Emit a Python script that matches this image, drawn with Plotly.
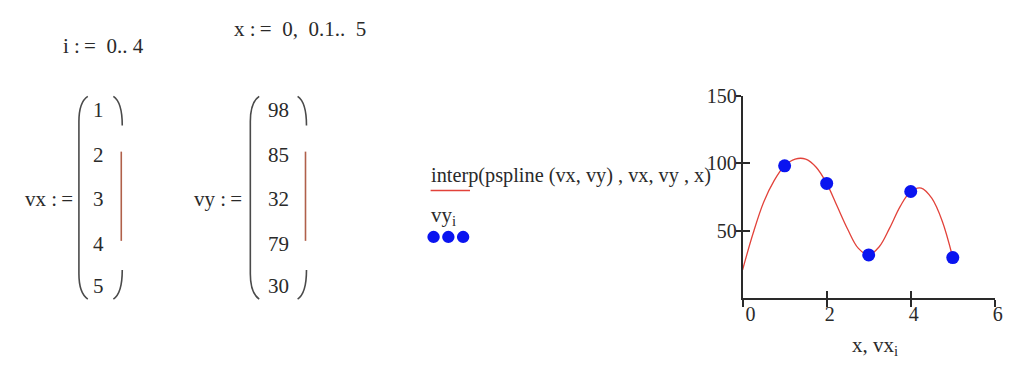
import plotly.graph_objects as go

# worksheet data
vx = [1, 2, 3, 4, 5]
vy = [98, 85, 32, 79, 30]

# red curve, values at steps of 0.25
curve_x = [0, 0.25, 0.5, 0.75, 1, 1.25, 1.5, 1.75, 2, 2.25, 2.5,
           2.75, 3, 3.25, 3.5, 3.75, 4, 4.25, 4.5, 4.75, 5]
curve_y = [21, 48, 71, 87, 98, 103, 103, 97, 85, 68, 51,
           37, 32, 38, 52, 68, 79, 81.5, 74, 57, 30]

x_ticks = [0, 2, 4, 6]
x_ticktext = ['\u00a0\u00a00', '2', '4', '6']
y_ticks = [50, 100, 150]
y_ticktext = ['50', '100', '150']

W, H = 1010, 365
FONT = 'Liberation Serif'
FS = 21
INK = '#2a2a2a'
RED = '#e2423a'
BLUE = '#0a14f0'
NB, TH = '\u00a0', '\u2009'


def px(x):
    return x / W


def py(y):
    return 1 - y / H


fig = go.Figure()
fig.add_trace(go.Scatter(x=curve_x, y=curve_y, mode='lines', line_shape='spline',
                         line=dict(color=RED, width=1.3), cliponaxis=False,
                         hoverinfo='skip'))
fig.add_trace(go.Scatter(x=vx, y=vy, mode='markers', xaxis='x2', yaxis='y2',
                         marker=dict(color=BLUE, size=13), cliponaxis=False))

dom_x = [px(746.7), px(1002.7)]
dom_y = [py(296), py(87.3)]
axis_common = dict(showgrid=False, zeroline=False, tickcolor=INK, tickwidth=1.5,
                   tickfont=dict(family=FONT, size=20, color=INK))

fig.update_layout(
    width=W, height=H, margin=dict(l=0, r=0, t=0, b=0),
    paper_bgcolor='white', plot_bgcolor='white', showlegend=False,
    xaxis=dict(range=[0, 6], domain=dom_x, anchor='y', tickvals=x_ticks,
               ticktext=x_ticktext, ticks='outside', ticklen=7, showline=True,
               linecolor=INK, linewidth=1.5, ticklabelshift=3,
               ticklabelstandoff=-10, ticklabeloverflow='allow', **axis_common),
    yaxis=dict(range=[0, 150], domain=dom_y, anchor='x', tickvals=y_ticks,
               ticktext=y_ticktext, ticks='outside', ticklen=5, showline=True,
               linecolor=INK, linewidth=1.5, ticklabelstandoff=-5,
               ticklabeloverflow='allow', **axis_common),
    xaxis2=dict(range=[0, 6], domain=dom_x, anchor='y2', overlaying='x',
                tickvals=x_ticks, ticks='inside', ticklen=7,
                showticklabels=False, **axis_common),
    yaxis2=dict(range=[0, 150], domain=dom_y, anchor='x2', overlaying='y',
                tickvals=[0] + y_ticks, ticks='inside', ticklen=7,
                showticklabels=False, **axis_common),
)

ann = []


def text(s, x, y, anchor='left', size=FS):
    ann.append(dict(text=s, x=px(x), y=py(y), xref='paper', yref='paper',
                    xanchor=anchor, yanchor='middle', showarrow=False,
                    font=dict(family=FONT, size=size, color=INK)))


ASSIGN = NB + ':' + TH + '=' + NB
text('i' + ASSIGN + NB + '0..' + NB + '4', 55, 36)
text('x' + ASSIGN + NB + '0,' + NB + NB + '0.1..' + NB + NB + '5', 228, 19)
text('vx' + NB + ':' + TH + '=', 69, 194, anchor='right')
text('vy' + NB + ':' + TH + '=', 241, 194, anchor='right')

rows = [102, 148, 194, 240, 284]
for r, a, b in zip(rows, vx, vy):
    text(str(a), 93, r, anchor='center')
    text(str(b), 276, r, anchor='center')

text('interp(pspline (vx, vy) , vx, vy , x)', 428, 170, size=20.3)
text('vy<sub>i</sub>', 428, 211)
text('x, vx<sub>i</sub>', 881, 345, anchor='center')

shapes = []


def path(points, color, width=1.6):
    d = ''
    for cmd, pts in points:
        d += cmd + ' ' + ' '.join(f'{px(a):.5f},{py(b):.5f}' for a, b in pts) + ' '
    shapes.append(dict(type='path', path=d.strip(), xref='paper', yref='paper',
                       line=dict(color=color, width=width)))


def bracket(xl, xr, top, bot, mid_color):
    # left "(" drawn as hook, straight stroke, hook
    path([('M', [(xl + 9, top)]), ('Q', [(xl, top + 6), (xl, top + 26)]),
          ('L', [(xl, bot - 26)]), ('Q', [(xl, bot - 6), (xl + 9, bot)])], '#4a4a4a')
    # right ")" with detached middle stroke
    path([('M', [(xr - 9, top)]), ('Q', [(xr, top + 6), (xr, top + 30)])], '#4a4a4a')
    path([('M', [(xr - 1, top + 57)]), ('L', [(xr - 1, bot - 60)])], mid_color)
    path([('M', [(xr, bot - 30)]), ('Q', [(xr, bot - 6), (xr - 9, bot)])], '#4a4a4a')


bracket(73, 117, 88, 297, '#b0604a')
bracket(247, 304, 88, 297, '#b0604a')

# legend samples
shapes.append(dict(type='line', xref='paper', yref='paper', x0=px(430), x1=px(470),
                   y0=py(185), y1=py(185), line=dict(color=RED, width=1.5)))
for cx in [433, 448, 463]:
    shapes.append(dict(type='circle', xref='paper', yref='paper',
                       x0=px(cx - 6.3), x1=px(cx + 6.3), y0=py(233 + 6.3),
                       y1=py(233 - 6.3), fillcolor=BLUE, line=dict(width=0)))

fig.update_layout(annotations=ann, shapes=shapes)
# drop the default page margin so figure pixels line up with the window
fig.write_html('out.html', config={'displayModeBar': False},
               post_script="document.body.style.margin='0';")
